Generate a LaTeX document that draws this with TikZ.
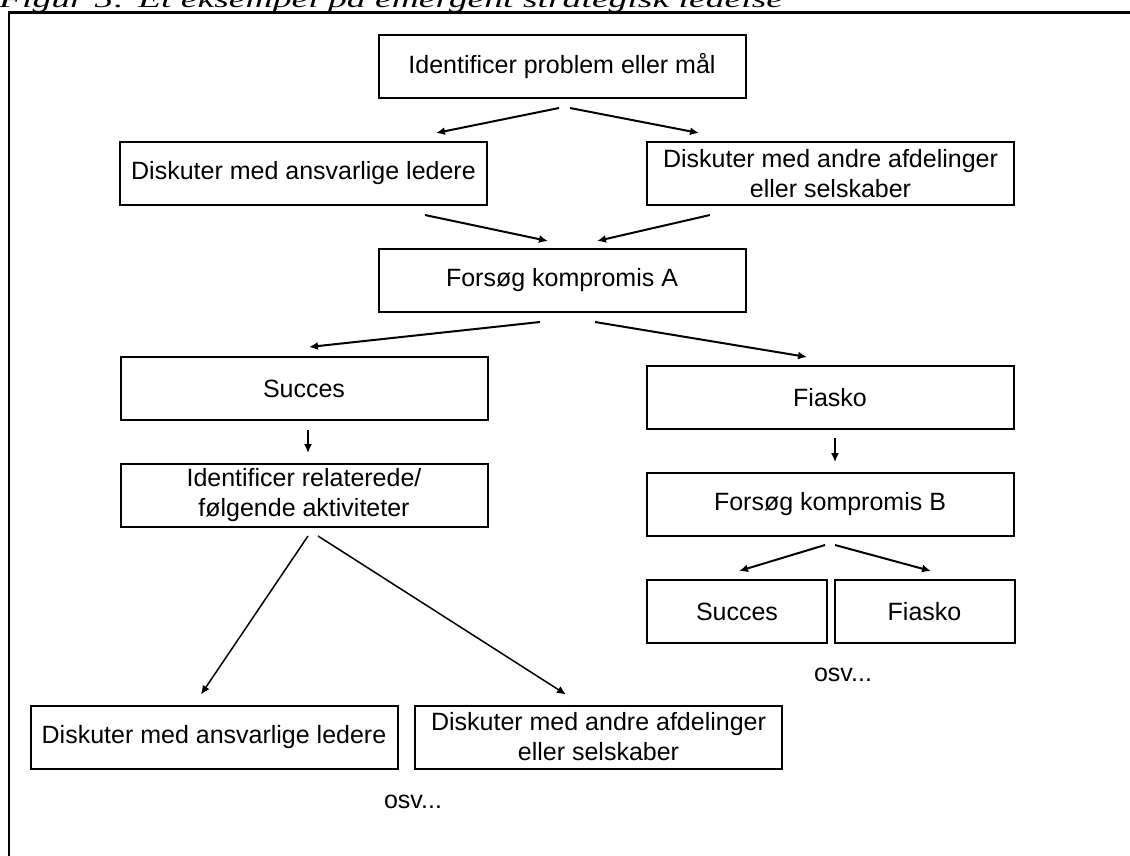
\documentclass[tikz,border=0pt]{standalone}
\usepackage{fontspec}
\setmainfont{Liberation Sans}
\newfontfamily\serifit{Liberation Serif}
\usepackage{tikz}
\usetikzlibrary{arrows.meta,calc}
\definecolor{ink}{HTML}{000000}
\tikzset{
  stepbox/.style={draw=ink,fill=white,line width=2pt,
                  minimum width=367pt,minimum height=63pt,
                  align=center,inner sep=0pt,
                  font=\fontsize{25}{30}\selectfont},
  halfbox/.style={stepbox,minimum width=180pt},
  osvtext/.style={font=\fontsize{25}{30}\selectfont,inner sep=0pt,text=ink},
  flowarr/.style={-{Latex[length=9pt,width=8pt]},line width=2pt,color=ink},
  longarr/.style={flowarr,line width=1.5pt}
}

\begin{document}
\begin{tikzpicture}[x=1pt,y=-1pt]
  \useasboundingbox (0,0) rectangle (1130,855);
  \clip (0,0) rectangle (1130,855);
  \node[anchor=base west,inner sep=0pt,text=ink] (titel) at (-1,7.5)
    {\scalebox{1.6}[1]{\fontsize{23.5}{23.5}\selectfont\serifit\itshape Figur 5: Et eksempel på emergent strategisk ledelse}};
  \draw[ink,line width=2.5pt] (9,870) -- (9,12.5) -- (1140,12.5);

  \node[stepbox] (maal) at (562,66.5) {Identificer problem eller mål};
  \node[stepbox] (ledere1) at (303.5,173.5) {Diskuter med ansvarlige ledere};
  \node[stepbox] (afdel1) at (830.5,173.5) {Diskuter med andre afdelinger\\eller selskaber};
  \node[stepbox] (kompA) at (562,280.5) {Forsøg kompromis A};
  \node[stepbox] (succes1) at (304,388.5) {Succes};
  \node[stepbox] (fiasko1) at (830,397.5) {Fiasko};
  \node[stepbox] (relat) at (304,495.5) {Identificer relaterede/\\følgende aktiviteter};
  \node[stepbox] (kompB) at (830,504.5) {Forsøg kompromis B};
  \node[halfbox] (succes2) at (737,611.5) {Succes};
  \node[halfbox] (fiasko2) at (924.5,611.5) {Fiasko};
  \node[osvtext] (osvB) at (843,675) {osv...};
  \node[stepbox] (ledere2) at (214,737) {Diskuter med ansvarlige ledere};
  \node[stepbox] (afdel2) at (598.5,737) {Diskuter med andre afdelinger\\eller selskaber};
  \node[osvtext] (osvrel) at (413,802) {osv...};

  \draw[flowarr] ($(maal.south)+(-3,9)$) -- ($(ledere1.north)+(132.5,-8)$);
  \draw[flowarr] ($(maal.south)+(8,9)$) -- ($(afdel1.north)+(-131.5,-8)$);
  \draw[flowarr] ($(ledere1.south)+(121.5,9)$) -- ($(kompA.north)+(-14,-7)$);
  \draw[flowarr] ($(afdel1.south)+(-120.5,9)$) -- ($(kompA.north)+(35,-7)$);
  \draw[flowarr] ($(kompA.south)+(-22,9)$) -- ($(succes1.north)+(5,-9)$);
  \draw[flowarr] ($(kompA.south)+(33,9)$) -- ($(fiasko1.north)+(-23,-8)$);
  \draw[longarr] ($(succes1.south)+(4,9)$) -- ($(relat.north)+(4,-10)$);
  \draw[longarr] ($(fiasko1.south)+(5,8)$) -- ($(kompB.north)+(5,-10)$);
  \draw[flowarr] ($(kompB.south)+(-5,8)$) -- ($(succes2.north)+(2,-8)$);
  \draw[flowarr] ($(kompB.south)+(5,8)$) -- ($(fiasko2.north)+(6.5,-8)$);
  \draw[longarr] ($(relat.south)+(4,8)$) -- ($(ledere2.north)+(-13,-10)$);
  \draw[longarr] ($(relat.south)+(14,8)$) -- ($(afdel2.north)+(-32.5,-10)$);
\end{tikzpicture}
\end{document}
